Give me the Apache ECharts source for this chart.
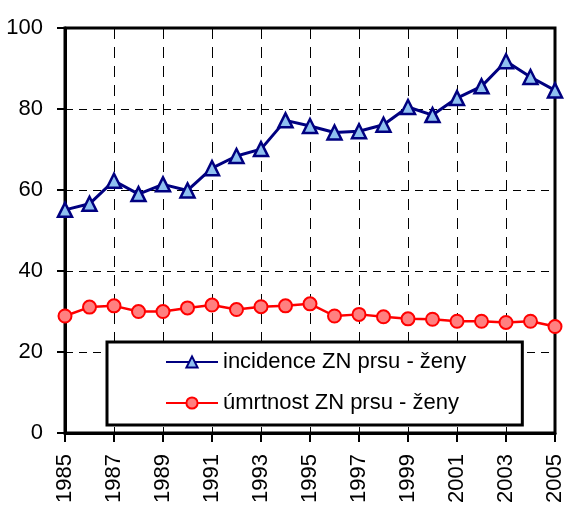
<!DOCTYPE html>
<html>
<head>
<meta charset="utf-8">
<script src="https://cdn.jsdelivr.net/npm/echarts@6/dist/echarts.min.js"></script>
<style>
html,body{margin:0;padding:0;background:#fff;}
#chart{width:566px;height:506px;}
</style>
</head>
<body>
<div id="chart"></div>
<script>
const years = ['1985','1986','1987','1988','1989','1990','1991','1992','1993','1994','1995','1996','1997','1998','1999','2000','2001','2002','2003','2004','2005'];
const incidence = [55.1, 56.6, 62.3, 59.0, 61.4, 59.9, 65.4, 68.4, 70.1, 77.2, 75.8, 74.2, 74.5, 76.1, 80.5, 78.5, 82.7, 85.6, 91.8, 87.9, 84.6];
const mortality = [28.9, 31.1, 31.4, 30.0, 30.0, 30.9, 31.6, 30.5, 31.2, 31.4, 31.9, 28.9, 29.3, 28.7, 28.2, 28.1, 27.6, 27.6, 27.3, 27.6, 26.3];
const seriesNames = ['incidence ZN prsu - ženy', 'úmrtnost ZN prsu - ženy'];

const FONT = '"Liberation Sans", Arial, sans-serif';
const chart = echarts.init(document.getElementById('chart'), null, {renderer: 'canvas'});
chart.setOption({
  animation: false,
  backgroundColor: '#fff',
  textStyle: {fontFamily: FONT, color: '#000'},
  grid: {left: 65, right: 8, top: 28, bottom: 70, show: true, borderColor: '#000', borderWidth: 3, backgroundColor: 'transparent'},
  legend: {
    orient: 'vertical',
    left: 107, top: 342,
    padding: [8, 56, 10, 58],
    backgroundColor: '#fff',
    borderColor: '#000', borderWidth: 3,
    itemWidth: 52, itemHeight: 14, itemGap: 17,
    textStyle: {fontFamily: FONT, fontSize: 22, color: '#000', lineHeight: 24},
    data: seriesNames
  },
  xAxis: {
    type: 'category',
    data: years,
    boundaryGap: false,
    axisLine: {show: true, lineStyle: {color: '#000', width: 3}},
    axisTick: {show: true, interval: 1, length: 9, lineStyle: {color: '#000', width: 2}},
    axisLabel: {interval: 1, rotate: 90, margin: 21, fontFamily: FONT, fontSize: 22, color: '#000'},
    splitLine: {show: true, interval: 1, lineStyle: {color: '#000', width: 1, type: [11, 8]}}
  },
  yAxis: {
    type: 'value',
    min: 0, max: 100, interval: 20,
    axisLine: {show: true, lineStyle: {color: '#000', width: 3}},
    axisTick: {show: true, length: 8, lineStyle: {color: '#000', width: 2}},
    axisLabel: {margin: 22, fontFamily: FONT, fontSize: 22, color: '#000'},
    splitLine: {show: true, lineStyle: {color: '#000', width: 1, type: [8, 6]}}
  },
  series: [
    {
      name: seriesNames[0],
      type: 'line',
      data: incidence,
      symbol: 'triangle',
      symbolSize: 14,
      lineStyle: {color: '#000080', width: 3},
      itemStyle: {color: '#8fc0f0', borderColor: '#000080', borderWidth: 2.5},
      z: 3
    },
    {
      name: seriesNames[1],
      type: 'line',
      data: mortality,
      symbol: 'circle',
      symbolSize: 13,
      lineStyle: {color: '#ff0000', width: 2.5},
      itemStyle: {color: '#ff8080', borderColor: '#ff0000', borderWidth: 2},
      z: 3
    }
  ]
});
</script>
</body>
</html>
